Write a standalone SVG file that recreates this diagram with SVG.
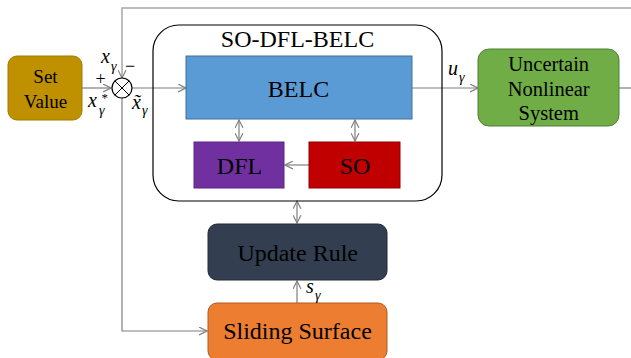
<svg xmlns="http://www.w3.org/2000/svg" width="631" height="358" viewBox="0 0 631 358">
<style>
text{font-family:'Liberation Serif','Times New Roman','DejaVu Serif',serif}
.t{fill:#000;text-anchor:middle}
.m{font-style:italic;fill:#000}
.ln{fill:none;stroke:#7f7f7f;stroke-width:1.2}
.lt{fill:none;stroke:#a6a6a6;stroke-width:1.5}
</style>
<defs>
<marker id="ah" markerUnits="userSpaceOnUse" markerWidth="9" markerHeight="9" refX="7" refY="3.5" orient="auto-start-reverse" viewBox="0 0 8 7">
<path d="M0,0 L7,3.5 L0,7" fill="none" stroke="#7f7f7f" stroke-width="1"/>
</marker>
</defs>
<g id="connectors">
<polyline class="lt" points="631,8 122,8 122,78" marker-end="url(#ah)"/>
<polyline class="ln" points="122,98 122,331 207,331" marker-end="url(#ah)"/>
<line class="ln" x1="82" y1="88" x2="111" y2="88" marker-end="url(#ah)"/>
<line class="ln" x1="132" y1="88" x2="186" y2="88" marker-end="url(#ah)"/>
<line class="ln" x1="412" y1="88" x2="478" y2="88" marker-end="url(#ah)"/>
<line class="ln" x1="619" y1="88" x2="631" y2="88"/>
<line class="ln" x1="239" y1="120" x2="239" y2="141" marker-start="url(#ah)" marker-end="url(#ah)"/>
<line class="ln" x1="355" y1="120" x2="355" y2="141" marker-start="url(#ah)" marker-end="url(#ah)"/>
<line class="ln" x1="309" y1="165" x2="285" y2="165" marker-end="url(#ah)"/>
<line class="ln" x1="297" y1="201" x2="297" y2="223" marker-start="url(#ah)" marker-end="url(#ah)"/>
<line class="ln" x1="297" y1="303" x2="297" y2="281" marker-end="url(#ah)"/>
</g>
<g id="sum">
<circle cx="122" cy="88" r="10" fill="#fff" stroke="#000" stroke-width="1.2"/>
<line x1="114.9" y1="80.9" x2="129.1" y2="95.1" stroke="#000" stroke-width="1"/>
<line x1="129.1" y1="80.9" x2="114.9" y2="95.1" stroke="#000" stroke-width="1"/>
</g>
<g id="set-value">
<rect x="8" y="56" width="74" height="64" rx="9" fill="#bf9000" stroke="#a07c00"/>
<text class="t" x="45.5" y="83" font-size="19">Set</text>
<text class="t" x="45.5" y="107.5" font-size="19">Value</text>
</g>
<g id="so-dfl-belc">
<rect x="153" y="25" width="289" height="176" rx="26" fill="none" stroke="#000" stroke-width="1.2"/>
<text class="t" x="297.5" y="47" font-size="24">SO-DFL-BELC</text>
</g>
<g id="belc">
<rect x="186" y="56" width="226" height="63" fill="#5b9bd5" stroke="#41719c"/>
<text class="t" x="298.5" y="97" font-size="24">BELC</text>
</g>
<g id="dfl">
<rect x="194" y="142" width="90" height="46" fill="#7030a0" stroke="#5a2680"/>
<text class="t" x="239.5" y="174" font-size="24">DFL</text>
</g>
<g id="so">
<rect x="309" y="142" width="91" height="46" fill="#c00000" stroke="#8f0000"/>
<text class="t" x="355" y="174" font-size="24">SO</text>
</g>
<g id="system">
<rect x="478" y="49" width="141" height="77" rx="11" fill="#70ad47" stroke="#507e32"/>
<text class="t" x="548.7" y="71" font-size="20.5">Uncertain</text>
<text class="t" x="548.7" y="96" font-size="20.5">Nonlinear</text>
<text class="t" x="548.7" y="119.5" font-size="20.5">System</text>
</g>
<g id="update-rule">
<rect x="208" y="224" width="179" height="56" rx="9" fill="#333f50" stroke="#222a35"/>
<text class="t" x="297.7" y="261" font-size="24">Update Rule</text>
</g>
<g id="sliding-surface">
<rect x="208" y="303" width="179" height="57" rx="9" fill="#ed7d31" stroke="#ae5a21"/>
<text class="t" x="297.5" y="338.5" font-size="24">Sliding Surface</text>
</g>
<g id="labels">
<text class="m" x="101" y="63" font-size="20">x</text>
<text class="m" x="111" y="71" font-size="14">γ</text>
<text x="125" y="72" font-size="18">−</text>
<text x="95.5" y="85" font-size="18">+</text>
<text class="m" x="88" y="106.5" font-size="20">x</text>
<text x="101.5" y="102" font-size="13" fill="#000">*</text>
<text class="m" x="99" y="115" font-size="14">γ</text>
<text class="m" x="132" y="108.5" font-size="20">x̃</text>
<text class="m" x="142" y="115" font-size="14">γ</text>
<text class="m" x="448" y="75" font-size="20">u</text>
<text class="m" x="459" y="82" font-size="14">γ</text>
<text class="m" x="306" y="293" font-size="20">s</text>
<text class="m" x="315" y="300" font-size="14">γ</text>
</g>
</svg>
